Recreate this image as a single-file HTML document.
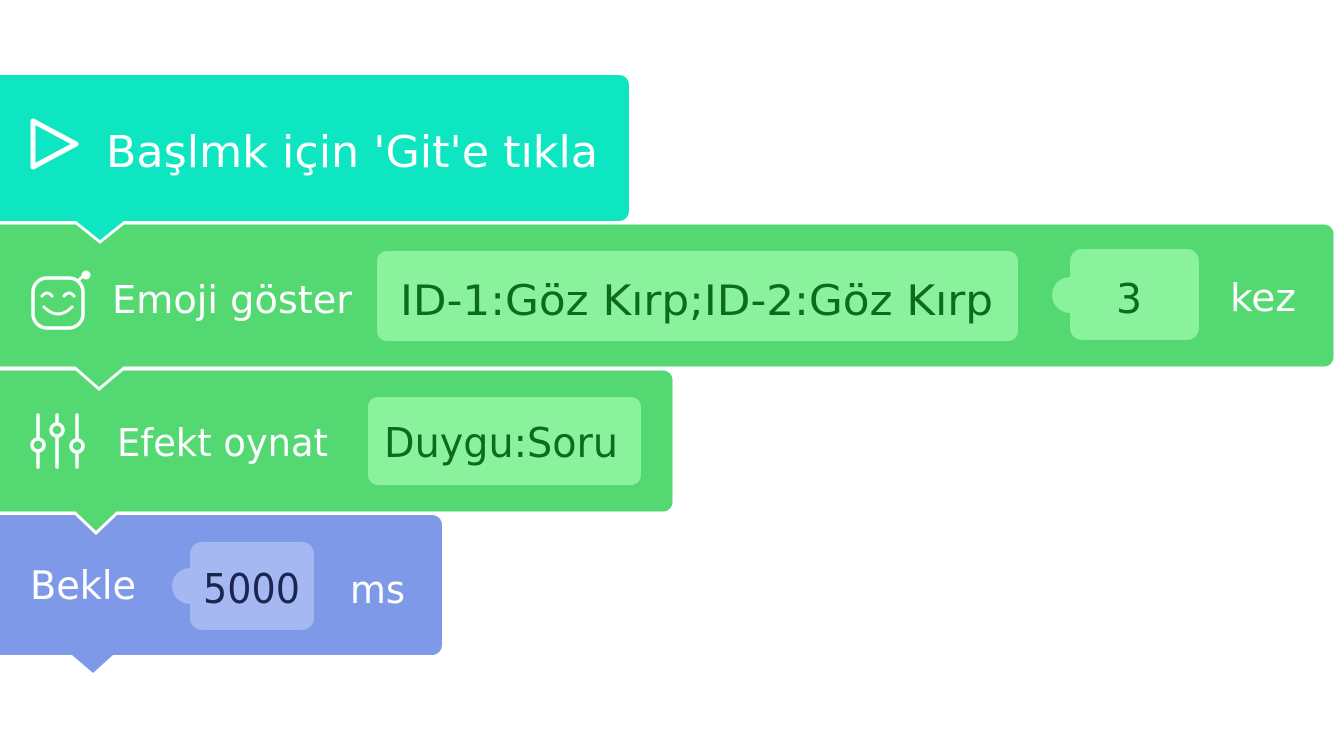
<!DOCTYPE html>
<html><head><meta charset="utf-8"><style>
html,body{margin:0;padding:0;background:#fff;}
svg{display:block}
text{font-family:"DejaVu Sans","Liberation Sans",sans-serif;}
</style></head><body>
<svg width="1334" height="750" viewBox="0 0 1334 750" xmlns="http://www.w3.org/2000/svg">
<!-- blue block -->
<path d="M-5,514 H432 a11,11 0 0 1 11,11 V645 a11,11 0 0 1 -11,11 H113 L93,674 L72,656 H-5 Z" fill="#7f99e9" stroke="#fff" stroke-width="3"/>
<path d="M-5,515 H432 a10,10 0 0 1 10,10 V645 a10,10 0 0 1 -10,10 H113 L93,673 L72,655 H-5 Z" fill="#7f99e9"/>
<!-- green block 3 -->
<path d="M-5,369 H663 a11,11 0 0 1 11,11 V502 a11,11 0 0 1 -11,11 H117 L96,533 L75,513 H-5 Z" fill="#53d872" stroke="#fff" stroke-width="3"/>
<!-- green block 2 -->
<path d="M-5,223 H1324 a11,11 0 0 1 11,11 V357 a11,11 0 0 1 -11,11 H124 L99,389 L75,368 H-5 Z" fill="#53d872" stroke="#fff" stroke-width="3"/>
<!-- teal block -->
<path d="M-5,74 H619 a11,11 0 0 1 11,11 V211 a11,11 0 0 1 -11,11 H125 L100,242 L75,222 H-5 Z" fill="#0ee6c2" stroke="#fff" stroke-width="3"/>
<path d="M-5,75 H619 a10,10 0 0 1 10,10 V211 a10,10 0 0 1 -10,10 H-5 Z" fill="#0ee6c2"/>

<!-- teal content -->
<path d="M33,121 L33,167 L76,144 Z" fill="none" stroke="#fff" stroke-width="5" stroke-linejoin="round"/>
<text x="106" y="167" font-size="44" fill="#fff" textLength="492" lengthAdjust="spacingAndGlyphs">Başlmk için 'Git'e tıkla</text>

<!-- emoji icon -->
<rect x="33" y="278" width="50" height="50" rx="14" fill="none" stroke="#fff" stroke-width="3.5"/>
<line x1="78" y1="281" x2="84" y2="275" stroke="#fff" stroke-width="3"/>
<circle cx="86" cy="275" r="4.5" fill="#fff"/>
<path d="M42,296 q5,-6 10,0 M64,296 q5,-6 10,0" fill="none" stroke="#fff" stroke-width="3" stroke-linecap="round"/>
<path d="M44,307 q14,14 28,0" fill="none" stroke="#fff" stroke-width="3" stroke-linecap="round"/>
<text x="112" y="313" font-size="38" fill="#fff" textLength="240" lengthAdjust="spacingAndGlyphs">Emoji göster</text>
<rect x="377" y="251" width="641" height="90" rx="10" fill="#8af29c"/>
<text x="400" y="315" font-size="42" fill="#0c6b1c" textLength="593" lengthAdjust="spacingAndGlyphs">ID-1:Göz Kırp;ID-2:Göz Kırp</text>
<circle cx="1070" cy="295" r="18" fill="#8af29c"/>
<rect x="1070" y="249" width="129" height="91" rx="12" fill="#8af29c"/>
<text x="1129" y="313" font-size="41" fill="#0c6b1c" text-anchor="middle">3</text>
<text x="1230" y="311" font-size="38" fill="#fff" textLength="66" lengthAdjust="spacingAndGlyphs">kez</text>

<!-- effect icon -->
<g stroke="#fff" stroke-width="3.5" fill="none" stroke-linecap="round">
<line x1="38" y1="415" x2="38" y2="438"/><circle cx="38" cy="445" r="6"/><line x1="38" y1="452" x2="38" y2="467"/>
<line x1="57" y1="415" x2="57" y2="423"/><circle cx="57" cy="430" r="6"/><line x1="57" y1="437" x2="57" y2="467"/>
<line x1="77" y1="415" x2="77" y2="438"/><circle cx="77" cy="446" r="6"/><line x1="77" y1="453" x2="77" y2="467"/>
</g>
<text x="117" y="456" font-size="38" fill="#fff" textLength="211" lengthAdjust="spacingAndGlyphs">Efekt oynat</text>
<rect x="368" y="397" width="273" height="88" rx="10" fill="#8af29c"/>
<text x="384" y="457" font-size="41" fill="#0c6b1c" font-family="Liberation Sans" textLength="234" lengthAdjust="spacingAndGlyphs">Duygu:Soru</text>

<!-- blue content -->
<text x="30" y="599" font-size="39" fill="#fff" textLength="106" lengthAdjust="spacingAndGlyphs">Bekle</text>
<circle cx="190" cy="586" r="18" fill="#a6b8f2"/>
<rect x="190" y="542" width="124" height="88" rx="12" fill="#a6b8f2"/>
<text x="203" y="603" font-size="41" fill="#1a2550" font-family="Liberation Sans" textLength="97" lengthAdjust="spacingAndGlyphs">5000</text>
<text x="350" y="603" font-size="38" fill="#fff" textLength="55" lengthAdjust="spacingAndGlyphs">ms</text>
</svg>
</body></html>
